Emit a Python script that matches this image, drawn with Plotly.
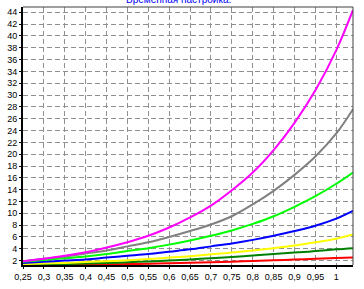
import plotly.graph_objects as go

x_vals = [0.25, 0.30, 0.35, 0.40, 0.45, 0.50, 0.55, 0.60, 0.65, 0.70, 0.75, 0.80, 0.85, 0.90, 0.95, 1.00, 1.04]

magenta = [1.9, 2.3, 2.8, 3.4, 4.2, 5.1, 6.2, 7.6, 9.3, 11.3, 13.9, 16.9, 20.7, 25.3, 30.8, 37.6, 44.4]
gray = [1.9, 2.3, 2.7, 3.2, 3.7, 4.4, 5.1, 6.0, 7.0, 8.1, 9.5, 11.5, 13.8, 16.5, 19.6, 23.5, 27.6]
lime = [1.8, 2.1, 2.4, 2.7, 3.1, 3.6, 4.1, 4.7, 5.4, 6.2, 7.1, 8.2, 9.5, 11.1, 12.9, 15.0, 16.9]
blue = [1.6, 1.8, 2.0, 2.2, 2.5, 2.8, 3.1, 3.5, 3.9, 4.4, 4.9, 5.5, 6.2, 7.0, 7.9, 9.1, 10.4]
yellow = [1.4, 1.5, 1.6, 1.75, 1.9, 2.05, 2.25, 2.5, 2.75, 3.05, 3.35, 3.7, 4.1, 4.55, 5.1, 5.7, 6.4]
darkgreen = [1.3, 1.35, 1.4, 1.5, 1.6, 1.7, 1.85, 2.0, 2.2, 2.4, 2.6, 2.85, 3.1, 3.35, 3.6, 3.9, 4.1]
red = [1.2, 1.22, 1.25, 1.3, 1.35, 1.4, 1.47, 1.55, 1.63, 1.72, 1.82, 1.93, 2.05, 2.17, 2.3, 2.42, 2.52]

series = [
    (red, "#FF0000"),
    (darkgreen, "#008000"),
    (yellow, "#FFFF00"),
    (blue, "#0000FF"),
    (lime, "#00FF00"),
    (gray, "#808080"),
    (magenta, "#FF00FF"),
]

x_ticks = [0.25, 0.30, 0.35, 0.40, 0.45, 0.50, 0.55, 0.60, 0.65, 0.70, 0.75, 0.80, 0.85, 0.90, 0.95, 1.00]
x_tick_labels = ["0,25", "0,3", "0,35", "0,4", "0,45", "0,5", "0,55", "0,6", "0,65", "0,7",
                 "0,75", "0,8", "0,85", "0,9", "0,95", "1"]
y_ticks = list(range(2, 45, 2))

fig = go.Figure()
for ys, col in series:
    fig.add_trace(go.Scatter(x=x_vals, y=ys, mode="lines",
                             line=dict(color=col, width=2, shape="spline"),
                             showlegend=False, hoverinfo="skip"))

fig.add_annotation(text="Временная настройка.", xref="paper", yref="paper",
                   x=0.47, y=1.0, yshift=0, yanchor="bottom", showarrow=False,
                   font=dict(family="Liberation Sans", size=10, color="#0000FF"))

fig.update_layout(
    width=364, height=289,
    margin=dict(l=19, r=11, t=7, b=21, pad=0),
    paper_bgcolor="white", plot_bgcolor="white",
    font=dict(family="Liberation Sans", size=9, color="black"),
    xaxis=dict(range=[0.25, 1.04], tickvals=x_ticks, ticktext=x_tick_labels,
               showgrid=True, gridcolor="#909090", griddash="5px,3px", gridwidth=1,
               showline=True, linecolor="black", linewidth=2, mirror=False,
               ticks="outside", ticklen=2, tickcolor="black", zeroline=False,
               fixedrange=True),
    yaxis=dict(range=[1.25, 44.9], tickvals=y_ticks,
               showgrid=True, gridcolor="#909090", griddash="5px,3px", gridwidth=1,
               showline=True, linecolor="black", linewidth=2, mirror=False,
               ticks="outside", ticklen=2, tickcolor="black", zeroline=False,
               fixedrange=True),
    shapes=[
        dict(type="line", xref="paper", yref="paper", x0=0, x1=1, y0=1, y1=1,
             line=dict(color="#404040", width=1)),
        dict(type="line", xref="paper", yref="paper", x0=1, x1=1, y0=0, y1=1,
             line=dict(color="#404040", width=1)),
    ],
)

fig.write_html("out.html", config={"displayModeBar": False})
